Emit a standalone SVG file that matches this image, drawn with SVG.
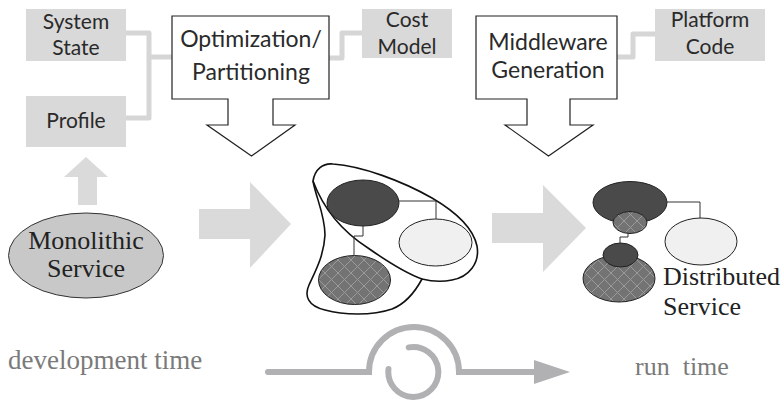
<svg xmlns="http://www.w3.org/2000/svg" width="783" height="400" viewBox="0 0 783 400">
<defs>
<pattern id="hatch" width="13" height="13" patternUnits="userSpaceOnUse">
<rect width="13" height="13" fill="#737373"/>
<path d="M0,0 L13,13 M13,0 L0,13" stroke="#9a9a9a" stroke-width="1"/>
</pattern>
<style>
.gbox{fill:#d9d9d9}
.sans{font-family:Lato,"Liberation Sans",sans-serif;fill:#2a2a2a;text-anchor:middle}
.s1{font-size:21px}
.s2{font-size:23px}
.serif{font-family:"Liberation Serif",serif;font-size:26px}
.conn{fill:none;stroke:#d6d6d6;stroke-width:5;stroke-linejoin:round;stroke-linecap:round}
.bigarrow{fill:#dadada}
.outline{fill:#fff;stroke:#222;stroke-width:1.2}
.line{fill:none;stroke:#333;stroke-width:1}
.time{fill:none;stroke:#b1b1b3;stroke-width:6;stroke-linecap:round}
</style>
</defs>

<g id="connectors">
<path class="conn" d="M126,33 H149 V118 H126 M149,57 H172"/>
<path class="conn" d="M329,58 H342 V33 H362"/>
<path class="conn" d="M617,57 H633 V34 H655"/>
</g>

<g id="system-state">
<rect class="gbox" x="26" y="9" width="100" height="52"/>
<text class="sans s1" x="76" y="29">System</text>
<text class="sans s1" x="76" y="55">State</text>
</g>
<g id="profile">
<rect class="gbox" x="26" y="96" width="100" height="51"/>
<text class="sans s1" x="76" y="128">Profile</text>
</g>
<g id="cost-model">
<rect class="gbox" x="362" y="9" width="90" height="49"/>
<text class="sans s1" x="407" y="27">Cost</text>
<text class="sans s1" x="407" y="54">Model</text>
</g>
<g id="platform-code">
<rect class="gbox" x="655" y="9" width="110" height="52"/>
<text class="sans s1" x="710" y="27">Platform</text>
<text class="sans s1" x="710" y="54">Code</text>
</g>

<g id="optimization">
<path class="outline" d="M172,16 H329 V99 H273 V125 H295 L251.5,156 L207,125 H228 V99 H172 Z"/>
<text class="sans s2" x="251" y="47">Optimization/</text>
<text class="sans s2" x="251" y="80">Partitioning</text>
</g>
<g id="middleware">
<path class="outline" d="M476,16 H617 V99 H570 V125 H593 L548.5,156 L505,125 H527 V99 H476 Z"/>
<text class="sans s2" x="548" y="50">Middleware</text>
<text class="sans s2" x="548" y="78">Generation</text>
</g>

<g id="arrows">
<path class="bigarrow" d="M86,157 L108,177 H97 V205 H78 V177 H64 Z"/>
<path class="bigarrow" d="M199,209 H250 V182 L291,224 L250,268 V239 H199 Z"/>
<path class="bigarrow" d="M492,213 H543 V185 L586,228 L543,272 V243 H492 Z"/>
</g>

<g id="monolithic">
<ellipse cx="86" cy="255.5" rx="77.5" ry="42.5" fill="#c8c8c8" stroke="#333" stroke-width="1"/>
<text class="serif" x="86" y="249" text-anchor="middle" fill="#222">Monolithic</text>
<text class="serif" x="86" y="277" text-anchor="middle" fill="#222">Service</text>
</g>

<g id="partitioned">
<path fill="#fff" stroke="#111" stroke-width="1.6" d="M313,181 C315,169 323,163 333,164 C362,166 402,181 432,198 C456,212 473,227 477,246 C480,263 469,277 452,280 C442,282 430,281 422,279 C415,292 405,304 392,309 C372,316 343,315 325,310 C308,306 304,296 309,285 C316,270 324,255 325,235 C325,215 316,198 313,181 Z"/>
<path fill="none" stroke="#111" stroke-width="1.6" d="M313,181 C322,205 340,230 368,248 C388,262 405,273 422,279"/>
<path class="line" d="M399,201 H436 V219 M363,226 V236 H354 V255"/>
<ellipse cx="363" cy="203" rx="36" ry="23" fill="#4a4a4a" stroke="#222" stroke-width="1"/>
<ellipse cx="435.5" cy="242.5" rx="36.5" ry="23.5" fill="#f0f0f0" stroke="#222" stroke-width="1"/>
<ellipse cx="354.5" cy="280" rx="36" ry="24.5" fill="url(#hatch)" stroke="#222" stroke-width="1"/>
</g>

<g id="distributed">
<path class="line" d="M667,202 H700 V218 M628,233 V237 H620 V243"/>
<ellipse cx="630" cy="202.5" rx="37" ry="21" fill="#4a4a4a" stroke="#222" stroke-width="1"/>
<ellipse cx="630" cy="222.5" rx="17" ry="11" fill="url(#hatch)" stroke="#222" stroke-width="1"/>
<ellipse cx="701" cy="241.5" rx="36" ry="23.5" fill="#f0f0f0" stroke="#222" stroke-width="1"/>
<ellipse cx="619" cy="278.5" rx="36" ry="23.5" fill="url(#hatch)" stroke="#222" stroke-width="1"/>
<ellipse cx="620.5" cy="255" rx="17.5" ry="12" fill="#4a4a4a" stroke="#222" stroke-width="1"/>
<text class="serif" x="663" y="285" fill="#222">Distributed</text>
<text class="serif" x="663" y="315" fill="#222">Service</text>
</g>

<g id="timeline">
<path class="time" d="M268,372 H369 A45,45 0 0 1 459,372 H536"/>
<path class="time" d="M408.7,347.4 A25,25 0 1 1 388.5,369"/>
<path d="M534,360 L570,372 L534,384 Z" fill="#b1b1b3"/>
<text class="serif" x="8" y="369" fill="#7a7a7a" style="font-size:27px">development time</text>
<text class="serif" x="635" y="375" fill="#7a7a7a" xml:space="preserve">run  time</text>
</g>
</svg>
